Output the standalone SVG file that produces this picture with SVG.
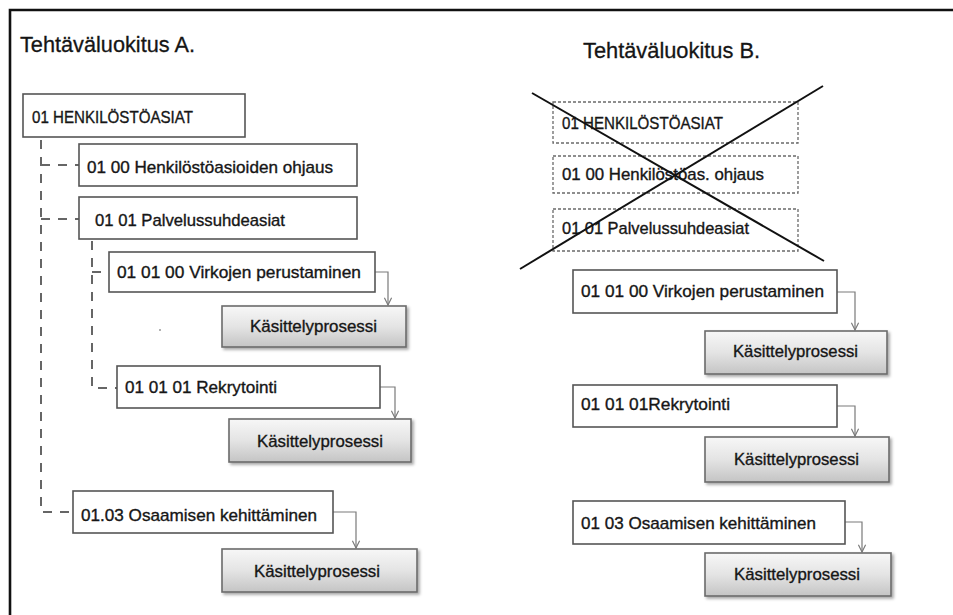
<svg xmlns="http://www.w3.org/2000/svg" width="953" height="615" viewBox="0 0 953 615">
  <defs>
    <linearGradient id="procFill" x1="0" y1="0" x2="0" y2="1">
      <stop offset="0" stop-color="#f7f7f7"/>
      <stop offset="0.5" stop-color="#e4e4e4"/>
      <stop offset="1" stop-color="#c4c4c4"/>
    </linearGradient>
    <filter id="shadow" x="-10%" y="-20%" width="125%" height="150%">
      <feDropShadow dx="2" dy="2" stdDeviation="1.5" flood-color="#000" flood-opacity="0.35"/>
    </filter>
    <marker id="vhead" viewBox="0 0 10 10" refX="9" refY="5" markerWidth="9" markerHeight="9" markerUnits="userSpaceOnUse" orient="auto">
      <path d="M1,1 L9,5 L1,9" fill="none" stroke="#7a7a7a" stroke-width="1.3"/>
    </marker>
    <style>
      .title { font-family: "Liberation Sans", Arial, sans-serif; font-size: 22px; fill: #151515; stroke: #151515; stroke-width: 0.3; }
      .lbl { font-family: "Liberation Sans", Arial, sans-serif; font-size: 17px; fill: #161616; stroke: #161616; stroke-width: 0.35; }
      .box { fill: #ffffff; stroke: #555555; stroke-width: 1.6; }
      .gone { fill: #ffffff; stroke: #6a6a6a; stroke-width: 1.3; stroke-dasharray: 3 2; }
      .proc { fill: url(#procFill); stroke: #6b6b6b; stroke-width: 1.6; filter: url(#shadow); }
      .tree { fill: none; stroke: #666666; stroke-width: 2; stroke-dasharray: 9 8; }
      .flow { fill: none; stroke: #7a7a7a; stroke-width: 1.2; marker-end: url(#vhead); }
      .cross { stroke: #111111; stroke-width: 2; }
    </style>
  </defs>

  <rect width="953" height="615" fill="#ffffff"/>

  <!-- outer frame: top and left edges only -->
  <path d="M10,615 V10 H953" fill="none" stroke="#111111" stroke-width="2.6"/>

  <!-- headings -->
  <text class="title" x="20" y="52" textLength="175" lengthAdjust="spacingAndGlyphs">Tehtäväluokitus A.</text>
  <text class="title" x="583" y="58" textLength="177" lengthAdjust="spacingAndGlyphs">Tehtäväluokitus B.</text>

  <!-- connectors -->
  <g id="connectors">
    <!-- hierarchy lines, classification A -->
    <path class="tree" d="M41,140 V512 H73"/>
    <path class="tree" d="M41,165 H79"/>
    <path class="tree" d="M41,219 H79"/>
    <path class="tree" d="M92,241 V388 H117"/>
    <path class="tree" d="M92,272 H109"/>
    <!-- process links, classification A -->
    <path class="flow" d="M375,272 H388 V305"/>
    <path class="flow" d="M380,387 H395 V418"/>
    <path class="flow" d="M333,512 H356 V548"/>
    <!-- process links, classification B -->
    <path class="flow" d="M837,292 H855 V330"/>
    <path class="flow" d="M837,406 H855 V436"/>
    <path class="flow" d="M845,522 H862 V552"/>
  </g>

  <!-- classification A -->
  <g id="a-01">
    <rect class="box" x="23" y="94" width="222" height="43"/>
    <text class="lbl" x="32" y="123" textLength="161" lengthAdjust="spacingAndGlyphs">01 HENKILÖSTÖASIAT</text>
  </g>
  <g id="a-0100">
    <rect class="box" x="79" y="144" width="278" height="42"/>
    <text class="lbl" x="87" y="173" textLength="246" lengthAdjust="spacingAndGlyphs">01 00 Henkilöstöasioiden  ohjaus</text>
  </g>
  <g id="a-0101">
    <rect class="box" x="79" y="197" width="278" height="42"/>
    <text class="lbl" x="95" y="226" textLength="190" lengthAdjust="spacingAndGlyphs">01 01 Palvelussuhdeasiat</text>
  </g>
  <g id="a-010100">
    <rect class="box" x="109" y="252" width="266" height="40"/>
    <text class="lbl" x="117" y="278" textLength="244" lengthAdjust="spacingAndGlyphs">01 01 00 Virkojen  perustaminen</text>
  </g>
  <g id="a-proc1">
    <rect class="proc" x="222" y="306" width="184" height="41"/>
    <text class="lbl" x="250" y="332" textLength="127" lengthAdjust="spacingAndGlyphs">Käsittelyprosessi</text>
  </g>
  <circle cx="160" cy="330" r="1" fill="#999999"/>
  <g id="a-010101">
    <rect class="box" x="117" y="366" width="263" height="42"/>
    <text class="lbl" x="125" y="393" textLength="152" lengthAdjust="spacingAndGlyphs">01 01 01 Rekrytointi</text>
  </g>
  <g id="a-proc2">
    <rect class="proc" x="229" y="419" width="182" height="43"/>
    <text class="lbl" x="257" y="447" textLength="126" lengthAdjust="spacingAndGlyphs">Käsittelyprosessi</text>
  </g>
  <g id="a-0103">
    <rect class="box" x="73" y="491" width="260" height="42"/>
    <text class="lbl" x="81" y="521" textLength="236" lengthAdjust="spacingAndGlyphs">01.03 Osaamisen  kehittäminen</text>
  </g>
  <g id="a-proc3">
    <rect class="proc" x="222" y="549" width="195" height="43"/>
    <text class="lbl" x="254" y="577" textLength="126" lengthAdjust="spacingAndGlyphs">Käsittelyprosessi</text>
  </g>

  <!-- classification B: removed levels -->
  <g id="b-01">
    <rect class="gone" x="553" y="102" width="245" height="41"/>
    <text class="lbl" x="562" y="129" textLength="161" lengthAdjust="spacingAndGlyphs">01 HENKILÖSTÖASIAT</text>
  </g>
  <g id="b-0100">
    <rect class="gone" x="553" y="156" width="245" height="37"/>
    <text class="lbl" x="562" y="180" textLength="202" lengthAdjust="spacingAndGlyphs">01 00 Henkilöstöas.  ohjaus</text>
  </g>
  <g id="b-0101">
    <rect class="gone" x="553" y="209" width="245" height="42"/>
    <text class="lbl" x="562" y="234" textLength="187" lengthAdjust="spacingAndGlyphs">01 01 Palvelussuhdeasiat</text>
  </g>
  <g id="b-cross">
    <line class="cross" x1="532" y1="93" x2="824" y2="261"/>
    <line class="cross" x1="823" y1="86" x2="520" y2="269"/>
  </g>

  <!-- classification B: remaining levels -->
  <g id="b-010100">
    <rect class="box" x="573" y="270" width="264" height="43"/>
    <text class="lbl" x="581" y="297" textLength="243" lengthAdjust="spacingAndGlyphs">01 01 00 Virkojen  perustaminen</text>
  </g>
  <g id="b-proc1">
    <rect class="proc" x="705" y="331" width="182" height="43"/>
    <text class="lbl" x="733" y="357" textLength="125" lengthAdjust="spacingAndGlyphs">Käsittelyprosessi</text>
  </g>
  <g id="b-010101">
    <rect class="box" x="573" y="385" width="264" height="42"/>
    <text class="lbl" x="581" y="410" textLength="149" lengthAdjust="spacingAndGlyphs">01 01 01Rekrytointi</text>
  </g>
  <g id="b-proc2">
    <rect class="proc" x="705" y="437" width="184" height="45"/>
    <text class="lbl" x="734" y="465" textLength="125" lengthAdjust="spacingAndGlyphs">Käsittelyprosessi</text>
  </g>
  <g id="b-0103">
    <rect class="box" x="573" y="501" width="272" height="43"/>
    <text class="lbl" x="581" y="529" textLength="235" lengthAdjust="spacingAndGlyphs">01 03 Osaamisen  kehittäminen</text>
  </g>
  <g id="b-proc3">
    <rect class="proc" x="705" y="553" width="186" height="43"/>
    <text class="lbl" x="734" y="580" textLength="126" lengthAdjust="spacingAndGlyphs">Käsittelyprosessi</text>
  </g>
</svg>
